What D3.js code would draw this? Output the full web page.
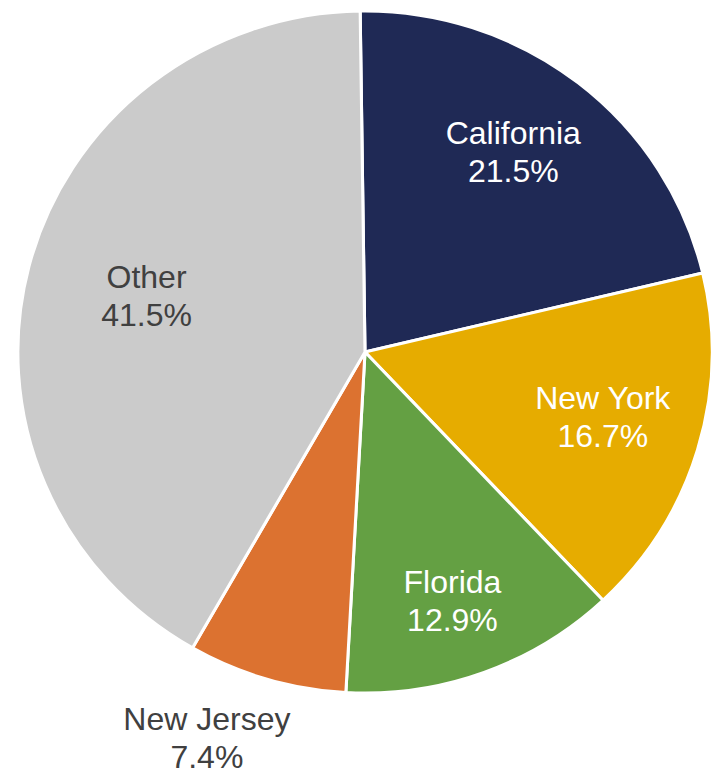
<!DOCTYPE html>
<html>
<head>
<meta charset="utf-8">
<script src="https://cdn.jsdelivr.net/npm/d3@7"></script>
<style>
    body { margin: 0; background: #ffffff; }
    svg { display: block; }
</style>
</head>
<body>
<div id="vis"></div>
<script>
// Pie chart of share by state

var states = [ "California", "New York", "Florida", "New Jersey", "Other" ];
var shares = [ 21.5, 16.7, 12.9, 7.4, 41.5 ];
var labels = [ "21.5%", "16.7%", "12.9%", "7.4%", "41.5%" ];

var colors = [ "#1f2955", "#e6ac00", "#64a043", "#dc7230", "#cbcbcb" ];
var textColors = [ "#ffffff", "#ffffff", "#ffffff", "#404040", "#404040" ];
// how far out each label sits, as a part of the radius, plus a small nudge
var labelRadius = [ 0.70, 0.73, 0.81, 1.25, 0.65 ];
var labelNudge = [ [ -1, -12 ], [ -5, -6 ], [ -9, -10 ], [ -35, -23 ], [ 0, -1 ] ];

var width = 721,
    height = 779,
    cx = 365,
    cy = 352,
    radius = 341,
    stretch = 1.018;

var data = [];
for( var i = 0 ; i < states.length ; i++ )
    data.push( { "name": states[ i ], "value": shares[ i ], "label": labels[ i ], "i": i } );

var svg = d3.select( "#vis" ).append( "svg" )
    .attr( "width", width )
    .attr( "height", height );

// the first slice starts a little left of twelve o'clock
var offset = -0.8 * Math.PI / 180;

var pie = d3.pie()
    .value( function( d ) { return d.value; } )
    .sort( null )
    .startAngle( offset )
    .endAngle( 2 * Math.PI + offset );

var arc = d3.arc()
    .innerRadius( 0 )
    .outerRadius( radius );

var arcs = pie( data );

// slices
svg.append( "g" )
    .attr( "transform", "translate(" + cx + "," + cy + ") scale(" + stretch + ",1)" )
    .selectAll( "path" )
    .data( arcs )
    .enter().append( "path" )
    .attr( "d", arc )
    .attr( "fill", function( d ) { return colors[ d.data.i ]; } )
    .attr( "stroke", "#ffffff" )
    .attr( "stroke-width", 3 )
    .attr( "stroke-linejoin", "round" );

// labels, two lines each
var lab = svg.append( "g" )
    .attr( "transform", "translate(" + cx + "," + cy + ")" )
    .selectAll( "text" )
    .data( arcs )
    .enter().append( "text" )
    .attr( "transform", function( d ) {
        var r = radius * labelRadius[ d.data.i ];
        var c = d3.arc().innerRadius( r ).outerRadius( r ).centroid( d );
        var n = labelNudge[ d.data.i ];
        return "translate(" + ( c[ 0 ] * stretch + n[ 0 ] ) + "," + ( c[ 1 ] + n[ 1 ] ) + ")";
    })
    .style( "font-family", "'Liberation Sans', Arial, sans-serif" )
    .style( "font-size", "32px" )
    .style( "text-anchor", "middle" )
    .style( "fill", function( d ) { return textColors[ d.data.i ]; } );

lab.append( "tspan" )
    .attr( "x", 0 )
    .attr( "y", -8 )
    .text( function( d ) { return d.data.name; } );

lab.append( "tspan" )
    .attr( "x", 0 )
    .attr( "y", 30 )
    .text( function( d ) { return d.data.label; } );
</script>
</body>
</html>
